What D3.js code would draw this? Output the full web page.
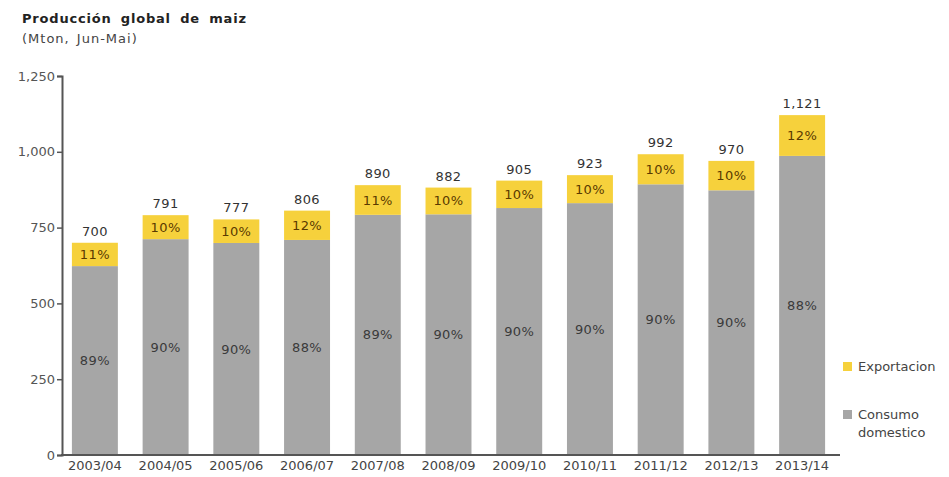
<!DOCTYPE html>
<html>
<head>
<meta charset="utf-8">
<script src="https://cdn.jsdelivr.net/npm/d3@7/dist/d3.min.js"></script>
<style>
  html, body { margin: 0; padding: 0; background: #fff; }
  svg { display: block; font-family: "DejaVu Sans", Verdana, sans-serif; }
</style>
</head>
<body>
<svg id="chart" width="949" height="477"></svg>
<script>
// Campaigns (Jun-May marketing years)
const seasons = ["2003/04", "2004/05", "2005/06", "2006/07", "2007/08", "2008/09",
                 "2009/10", "2010/11", "2011/12", "2012/13", "2013/14"];
// Total global production, Mton
const totals = [700, 791, 777, 806, 890, 882, 905, 923, 992, 970, 1121];
// Share of production going to domestic consumption, %
const domesticPct = [89, 90, 90, 88, 89, 90, 90, 90, 90, 90, 88];
// Share of production exported, %
const exportPct = [11, 10, 10, 12, 11, 10, 10, 10, 10, 10, 12];
// Y-axis ticks
const yTicks = [0, 250, 500, 750, 1000, 1250];

const seriesNames = ["Consumo domestico", "Exportacion"];
const colors = { domestic: "#a6a6a6", export: "#f6d13c" };

const rows = seasons.map((s, i) => {
  const domestic = totals[i] * domesticPct[i] / 100;
  return { season: s, total: totals[i], domestic, export: totals[i] - domestic,
           dPct: domesticPct[i], ePct: exportPct[i] };
});

const svg = d3.select("#chart");

const x = d3.scaleBand().domain(seasons).range([62, 835])
  .paddingInner(0.35).paddingOuter(0.14);
const y = d3.scaleLinear().domain([0, 1250]).range([455, 76]);

// Title
svg.append("text").attr("x", 22).attr("y", 23)
  .attr("font-size", 13).attr("font-weight", "bold").attr("fill", "#222")
  .attr("letter-spacing", 0.8).attr("word-spacing", 4)
  .text("Producción global de maiz");
svg.append("text").attr("x", 22).attr("y", 43)
  .attr("font-size", 13).attr("fill", "#444")
  .attr("letter-spacing", 1).attr("word-spacing", 2)
  .text("(Mton, Jun-Mai)");

// Stacked bars
const g = svg.append("g");
const stack = d3.stack().keys(["domestic", "export"])(rows);
g.selectAll("g.layer").data(stack).join("g")
  .attr("class", "layer")
  .attr("fill", d => colors[d.key])
  .selectAll("rect").data(d => d).join("rect")
  .attr("x", d => x(d.data.season))
  .attr("width", x.bandwidth())
  .attr("y", d => y(d[1]))
  .attr("height", d => y(d[0]) - y(d[1]));

// Percentage labels inside segments
const lbl = svg.append("g").attr("font-size", 13).attr("text-anchor", "middle")
  .attr("letter-spacing", 0.4);
lbl.selectAll("text.dom").data(rows).join("text")
  .attr("class", "dom")
  .attr("x", d => x(d.season) + x.bandwidth() / 2)
  .attr("y", d => (y(0) + y(d.domestic)) / 2)
  .attr("dy", "0.35em").attr("fill", "#3a3a3a")
  .text(d => d.dPct + "%");
lbl.selectAll("text.exp").data(rows).join("text")
  .attr("class", "exp")
  .attr("x", d => x(d.season) + x.bandwidth() / 2)
  .attr("y", d => (y(d.domestic) + y(d.total)) / 2)
  .attr("dy", "0.35em").attr("fill", "#5a3a00")
  .text(d => d.ePct + "%");
// Totals above bars
lbl.selectAll("text.tot").data(rows).join("text")
  .attr("class", "tot")
  .attr("x", d => x(d.season) + x.bandwidth() / 2)
  .attr("y", d => y(d.total) - 7)
  .attr("fill", "#333")
  .text(d => d3.format(",")(d.total));

// Y axis
const yAxis = svg.append("g").attr("transform", "translate(62,0)")
  .call(d3.axisLeft(y).tickValues(yTicks).tickFormat(d3.format(",")).tickSize(5).tickPadding(2));
yAxis.select(".domain").attr("stroke", "#555").attr("stroke-width", 2);
yAxis.selectAll(".tick line").attr("stroke", "#555").attr("stroke-width", 1.5);
yAxis.selectAll(".tick text").attr("font-size", 13).attr("fill", "#555")
  .attr("font-family", "DejaVu Sans, Verdana, sans-serif");

// X axis
const xAxis = svg.append("g").attr("transform", "translate(0,455)")
  .call(d3.axisBottom(x).tickSize(0).tickPadding(6));
xAxis.select(".domain").remove();
xAxis.append("line").attr("x1", 61).attr("x2", 840).attr("y1", 0).attr("y2", 0)
  .attr("stroke", "#555").attr("stroke-width", 2);
xAxis.selectAll(".tick text").attr("font-size", 13).attr("fill", "#444")
  .attr("font-family", "DejaVu Sans, Verdana, sans-serif");

// Legend
const legend = svg.append("g").attr("font-size", 13).attr("fill", "#444");
const leg1 = legend.append("g").attr("transform", "translate(843,362)");
leg1.append("rect").attr("width", 9).attr("height", 9).attr("fill", colors.export);
leg1.append("text").attr("x", 15).attr("y", 4.5).attr("dy", "0.35em").text(seriesNames[1]);
const leg2 = legend.append("g").attr("transform", "translate(843,410)");
leg2.append("rect").attr("width", 9).attr("height", 9).attr("fill", colors.domestic);
const t2 = leg2.append("text").attr("x", 15).attr("y", 4.5).attr("dy", "0.35em");
t2.append("tspan").attr("x", 15).text("Consumo");
t2.append("tspan").attr("x", 15).attr("dy", 18).text("domestico");
</script>
</body>
</html>
